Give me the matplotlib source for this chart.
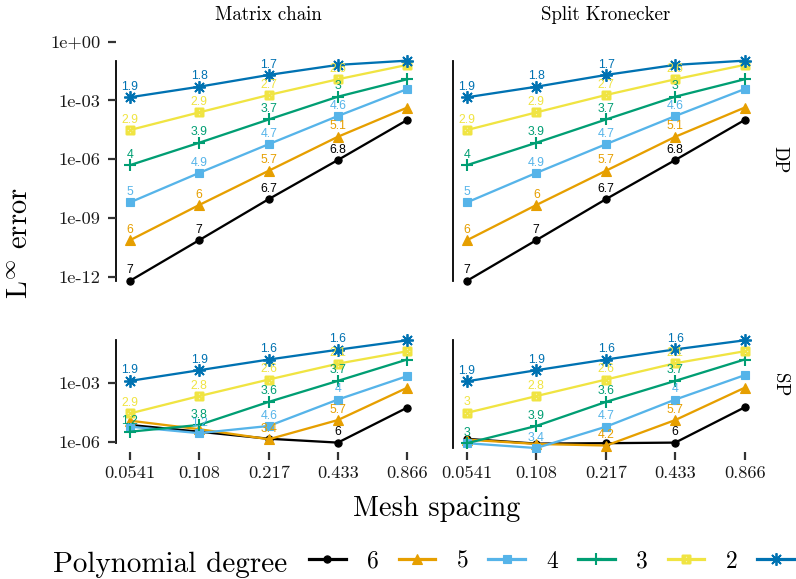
import matplotlib
matplotlib.use("Agg")
import matplotlib.pyplot as plt
import matplotlib.transforms as mtransforms
from matplotlib.path import Path
from matplotlib.lines import Line2D

plt.rcParams['font.family'] = ['cmr10', 'DejaVu Serif']
plt.rcParams['mathtext.fontset'] = 'cm'
plt.rcParams['axes.unicode_minus'] = False
plt.rcParams['axes.formatter.use_mathtext'] = True

# ---------------- data ----------------
mesh = [0.0541, 0.108, 0.217, 0.433, 0.866]
mesh_labels = ["0.0541", "0.108", "0.217", "0.433", "0.866"]
degrees = [6, 5, 4, 3, 2, 1]
methods = ["Matrix chain", "Split Kronecker"]
precisions = ["DP", "SP"]

# L-infinity errors, DP, Matrix chain
mc_dp_6 = [6.3e-13, 7.4e-11, 9.3e-9, 9.1e-7, 1.0e-4]
mc_dp_5 = [7.4e-11, 4.6e-9, 2.6e-7, 1.4e-5, 4.3e-4]
mc_dp_4 = [6.3e-9, 2.0e-7, 5.9e-6, 1.6e-4, 3.8e-3]
mc_dp_3 = [5.0e-7, 6.9e-6, 1.07e-4, 1.55e-3, 1.2e-2]
mc_dp_2 = [3.1e-5, 2.45e-4, 1.9e-3, 1.2e-2, 6.5e-2]
mc_dp_1 = [1.45e-3, 5.0e-3, 2.0e-2, 6.5e-2, 1.07e-1]
# DP, Split Kronecker
sk_dp_6 = [6.3e-13, 7.4e-11, 9.3e-9, 9.1e-7, 1.0e-4]
sk_dp_5 = [7.4e-11, 4.6e-9, 2.6e-7, 1.4e-5, 4.3e-4]
sk_dp_4 = [6.3e-9, 2.0e-7, 5.9e-6, 1.6e-4, 3.8e-3]
sk_dp_3 = [5.0e-7, 6.9e-6, 1.07e-4, 1.55e-3, 1.2e-2]
sk_dp_2 = [3.1e-5, 2.45e-4, 1.9e-3, 1.2e-2, 6.5e-2]
sk_dp_1 = [1.45e-3, 5.0e-3, 2.0e-2, 6.5e-2, 1.07e-1]
# SP, Matrix chain
mc_sp_6 = [7.1e-6, 3.2e-6, 1.4e-6, 8.9e-7, 5.4e-5]
mc_sp_5 = [1.17e-5, 4.3e-6, 1.32e-6, 1.26e-5, 5.6e-4]
mc_sp_4 = [5.8e-6, 2.7e-6, 6.3e-6, 1.4e-4, 2.2e-3]
mc_sp_3 = [3.2e-6, 7.1e-6, 1.07e-4, 1.26e-3, 1.55e-2]
mc_sp_2 = [2.75e-5, 2.1e-4, 1.48e-3, 9.5e-3, 4.1e-2]
mc_sp_1 = [1.26e-3, 4.4e-3, 1.55e-2, 4.9e-2, 1.48e-1]
# SP, Split Kronecker
sk_sp_6 = [1.38e-6, 7.9e-7, 8.3e-7, 8.9e-7, 5.6e-5]
sk_sp_5 = [1.26e-6, 7.6e-7, 6.3e-7, 1.26e-5, 5.6e-4]
sk_sp_4 = [8.3e-7, 4.7e-7, 5.8e-6, 1.4e-4, 2.45e-3]
sk_sp_3 = [8.3e-7, 6.3e-6, 1.07e-4, 1.26e-3, 1.55e-2]
sk_sp_2 = [2.95e-5, 2.1e-4, 1.48e-3, 1.0e-2, 4.1e-2]
sk_sp_1 = [1.2e-3, 4.4e-3, 1.55e-2, 5.1e-2, 1.48e-1]

# convergence-rate labels (None = not shown)
dp_lab_6 = ["7", "7", "6.7", "6.8", None]
dp_lab_5 = ["6", "6", "5.7", "5.1", None]
dp_lab_4 = ["5", "4.9", "4.7", "4.6", None]
dp_lab_3 = ["4", "3.9", "3.7", "3", None]
dp_lab_2 = ["2.9", "2.9", "2.7", "2.6", None]
dp_lab_1 = ["1.9", "1.8", "1.7", None, None]

mc_sp_lab_6 = [None, None, None, "6", None]
mc_sp_lab_5 = [None, None, "3.4", "5.7", None]
mc_sp_lab_4 = [None, "1.2", "4.6", "4", None]
mc_sp_lab_3 = ["1.2", "3.8", "3.6", "3.7", None]
mc_sp_lab_2 = ["2.9", "2.8", "2.6", "2.1", None]
mc_sp_lab_1 = ["1.9", "1.9", "1.6", "1.6", None]

sk_sp_lab_6 = [None, None, None, "6", None]
sk_sp_lab_5 = [None, None, "4.2", "5.7", None]
sk_sp_lab_4 = [None, "3.4", "4.7", "4", None]
sk_sp_lab_3 = ["3", "3.9", "3.6", "3.7", None]
sk_sp_lab_2 = ["3", "2.8", "2.6", "2.1", None]
sk_sp_lab_1 = ["1.9", "1.9", "1.6", "1.6", None]

dp_ticks = [1e0, 1e-3, 1e-6, 1e-9, 1e-12]
dp_tick_labels = ["1e+00", "1e-03", "1e-06", "1e-09", "1e-12"]
sp_ticks = [1e-3, 1e-6]
sp_tick_labels = ["1e-03", "1e-06"]

panels = {
    ("Matrix chain", "DP"): ([mc_dp_6, mc_dp_5, mc_dp_4, mc_dp_3, mc_dp_2, mc_dp_1],
                             [dp_lab_6, dp_lab_5, dp_lab_4, dp_lab_3, dp_lab_2, dp_lab_1]),
    ("Split Kronecker", "DP"): ([sk_dp_6, sk_dp_5, sk_dp_4, sk_dp_3, sk_dp_2, sk_dp_1],
                                [dp_lab_6, dp_lab_5, dp_lab_4, dp_lab_3, dp_lab_2, dp_lab_1]),
    ("Matrix chain", "SP"): ([mc_sp_6, mc_sp_5, mc_sp_4, mc_sp_3, mc_sp_2, mc_sp_1],
                             [mc_sp_lab_6, mc_sp_lab_5, mc_sp_lab_4, mc_sp_lab_3, mc_sp_lab_2, mc_sp_lab_1]),
    ("Split Kronecker", "SP"): ([sk_sp_6, sk_sp_5, sk_sp_4, sk_sp_3, sk_sp_2, sk_sp_1],
                                [sk_sp_lab_6, sk_sp_lab_5, sk_sp_lab_4, sk_sp_lab_3, sk_sp_lab_2, sk_sp_lab_1]),
}

# ---------------- styles ----------------
colors = {6: "#000000", 5: "#E69F00", 4: "#56B4E9", 3: "#009E73", 2: "#F0E442", 1: "#0072B2"}
sq_cross = Path([(-1, -1), (1, -1), (1, 1), (-1, 1), (-1, -1), (-1, -1), (1, 1), (-1, 1), (1, -1)],
                [Path.MOVETO, Path.LINETO, Path.LINETO, Path.LINETO, Path.CLOSEPOLY,
                 Path.MOVETO, Path.LINETO, Path.MOVETO, Path.LINETO])
mstyle = {
    6: dict(marker="o", ms=5.2, mfc=colors[6], mec=colors[6], mew=0.8),
    5: dict(marker="^", ms=6.5, mfc=colors[5], mec=colors[5], mew=0.8),
    4: dict(marker="s", ms=5.2, mfc=colors[4], mec=colors[4], mew=0.8),
    3: dict(marker="+", ms=8.5, mfc=colors[3], mec=colors[3], mew=1.5),
    2: dict(marker=sq_cross, ms=5.5, mfc="none", mec=colors[2], mew=1.7),
    1: dict(marker=(8, 2, 0), ms=9, mfc=colors[1], mec=colors[1], mew=1.3),
}
LW = 1.65

W, H = 796, 579
fig = plt.figure(figsize=(W / 100, H / 100), dpi=100)

col_x = {"Matrix chain": (116, 421), "Split Kronecker": (453, 758.5)}
row_y = {"DP": (34, 286), "SP": (318, 452)}
ylims = {"DP": (3.4e-13, 2.45), "SP": (2.95e-7, 2.04)}
xlim = (0.0470, 0.995)

axes = {}
for m in methods:
    for p in precisions:
        x0, x1 = col_x[m]
        y0, y1 = row_y[p]
        ax = fig.add_axes([x0 / W, 1 - y1 / H, (x1 - x0) / W, (y1 - y0) / H])
        axes[(m, p)] = ax
        ax.set_xscale("log")
        ax.set_yscale("log")
        ax.set_xlim(*xlim)
        ax.set_ylim(*ylims[p])
        for s in ax.spines.values():
            s.set_visible(False)
        ax.minorticks_off()
        series, labs = panels[(m, p)]
        for d, vals, lab in zip(degrees, series, labs):
            ax.plot(mesh, vals, color=colors[d], lw=LW, zorder=2 + (7 - d) * 0.1, **mstyle[d])
        for d, vals, lab in zip(degrees, series, labs):
            for xv, yv, t in zip(mesh, vals, lab):
                if t is None:
                    continue
                ax.annotate(t, (xv, yv), xytext=(0, 7.5), textcoords="offset points",
                            ha="center", va="center", fontsize=8.8, color=colors[d],
                            family="Liberation Sans", zorder=5)
        # range frame on the y axis
        allv = [v for s in series for v in s]
        tr = mtransforms.blended_transform_factory(ax.transAxes, ax.transData)
        ax.plot([0, 0], [min(allv), max(allv)], transform=tr, color="black", lw=1.3,
                clip_on=False, zorder=1)
        # ticks
        ax.tick_params(axis="both", which="both", length=6, width=1.6, color="#333333",
                       labelsize=13.3, labelcolor="#1a1a1a")
        if m == "Matrix chain":
            if p == "DP":
                ax.set_yticks(dp_ticks)
                ax.set_yticklabels(dp_tick_labels)
            else:
                ax.set_yticks(sp_ticks)
                ax.set_yticklabels(sp_tick_labels)
            ax.tick_params(axis="y", pad=5)
        else:
            ax.set_yticks([])
        if p == "SP":
            ax.set_xticks(mesh)
            ax.set_xticklabels(mesh_labels)
            ax.tick_params(axis="x", pad=4)
        else:
            ax.set_xticks([])
        ax.minorticks_off()
        if p == "DP":
            ax.set_title(m, fontsize=13.6, pad=10)
        if m == "Split Kronecker":
            ax.text(1.0 + 21 / (x1 - x0), 0.5, p, transform=ax.transAxes, rotation=-90,
                    ha="center", va="center", fontsize=13.6)

fig.text(437 / W, 1 - 516.5 / H, "Mesh spacing", ha="center", va="baseline", fontsize=20.5)
fig.text(20 / W, 1 - 243 / H, r"L$^\infty$ error", ha="center", va="center",
         rotation=90, fontsize=20.5)

# legend
fig.text(53 / W, 1 - 571.5 / H, "Polynomial degree", ha="left", va="baseline", fontsize=21)
handles = [Line2D([], [], color=colors[d], lw=2.3, **mstyle[d]) for d in degrees]
fig.legend(handles, [str(d) for d in degrees], loc="center left",
           bbox_to_anchor=(309 / W, 1 - 561.5 / H), ncol=6, frameon=False,
           fontsize=17, handlelength=1.55, handletextpad=0.9, columnspacing=0.85,
           borderpad=0, borderaxespad=0)

fig.savefig("out.png", dpi=100)
